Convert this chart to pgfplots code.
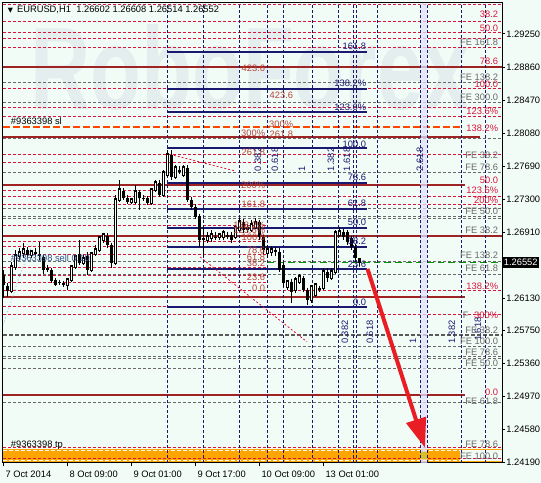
\documentclass[border=0pt]{standalone}
\usepackage{fontspec}
\setmainfont{Liberation Sans}
\newfontfamily\dejavu{DejaVu Sans}
\usepackage{pgfplots}
\pgfplotsset{compat=1.18}
\usetikzlibrary{arrows.meta,calc,backgrounds}

\definecolor{mtbg}{RGB}{242,252,247}
\definecolor{fibred}{RGB}{220,20,60}
\definecolor{fegray}{RGB}{105,105,105}
\definecolor{lvlcol}{RGB}{160,35,35}
\definecolor{mtnavy}{RGB}{25,25,112}
\definecolor{fanbrown}{RGB}{180,70,60}
\definecolor{slorange}{RGB}{255,69,0}
\definecolor{tporange}{RGB}{255,165,0}
\definecolor{arrowred}{RGB}{232,30,36}
\definecolor{lav}{RGB}{226,226,248}
\definecolor{wmark}{RGB}{229,238,238}
\definecolor{pricegreen}{RGB}{0,150,0}

\tikzset{
  redlvl/.style={fibred, line width=0.75pt, dash pattern=on 2.25pt off 1.5pt},
  graylvl/.style={fegray, line width=0.75pt, dash pattern=on 2.25pt off 1.5pt},
  solidlvl/.style={lvlcol, line width=1.5pt},
  vline/.style={mtnavy, line width=0.75pt, dash pattern=on 2.25pt off 1.5pt},
  fib/.style={mtnavy, line width=1.7pt},
  lbl/.style={font=\fontsize{7}{8}\selectfont, inner sep=0.5pt},
}
% right-hand level labels
\newcommand{\rl}[3]{\node[lbl,text=#1,anchor=east] at (axis cs:124.875,#2) {#3};}
% labels of the brown fibonacci set
\newcommand{\bl}[3]{\node[lbl,text=fanbrown,anchor=east] at (axis cs:#1,#2) {#3};}
% navy fibonacci labels
\newcommand{\nl}[2]{\node[lbl,text=mtnavy,anchor=east] at (axis cs:91.875,#1) {#2};}
% rotated time-zone labels
\newcommand{\tz}[3]{\node[lbl,text=mtnavy,rotate=90,anchor=west] at (axis cs:#1,#2) {#3};}

\begin{document}
\begin{tikzpicture}
\begin{axis}[
    name=ax,
    width=374.25pt, height=345pt, scale only axis,
    xmin=0.875, xmax=125.625, ymin=1.24185, ymax=1.29616,
    axis background/.style={fill=mtbg},
    axis line style={black, line width=0.75pt},
    clip mode=individual,
    tick align=outside, major tick length=2.5pt,
    tick style={black, line width=0.75pt},
    xtick pos=left, ytick pos=right, yticklabel pos=right,
    xtick={1,17,33,49,65,81},
    xticklabels={7 Oct 2014, 8 Oct 09:00, 9 Oct 01:00, 9 Oct 17:00, 10 Oct 09:00, 13 Oct 01:00},
    xticklabel style={anchor=north west, xshift=-2pt},
    ytick={1.2925,1.2886,1.2847,1.2808,1.2769,1.2730,1.2691,1.2613,1.2575,1.2536,1.2497,1.2458,1.2419},
    yticklabels={1.29250,1.28860,1.28470,1.28080,1.27690,1.27300,1.26910,1.26130,1.25750,1.25360,1.24970,1.24580,1.24190},
    yticklabel style={inner xsep=0.6pt},
    ticklabel style={font=\fontsize{7}{8}\selectfont},
]
% watermark
\node[text=wmark, anchor=base west, font=\fontsize{88}{88}\selectfont\bfseries,
      xscale=0.71, transform shape, inner sep=0pt] at (axis cs:7.625,1.28353) {RoboForex};

% full-width red dashed levels
\pgfplotsinvokeforeach{1.29604,1.29403,1.29262,1.29191,1.29096,1.28601,1.28377,1.28270,
  1.27822,1.27326,1.27232,1.26217,1.25934}{
  \addplot[redlvl] coordinates {(0.875,#1)(125.625,#1)};}
% red dashed levels of the left fibonacci set
\pgfplotsinvokeforeach{1.27728,1.27397,1.26984,1.26795,1.26736,1.26642,1.26489,1.26394,
  1.26312,1.26028}{
  \addplot[redlvl] coordinates {(0.875,#1)(66.875,#1)};}
% gray dashed expansion levels
\pgfplotsinvokeforeach{1.28683,1.28447,1.28011,1.27610,1.27185,1.27090,1.27067,1.26854,
  1.26559,1.26406,1.25556,1.25438,1.25415,1.25297,1.24896}{
  \addplot[graylvl] coordinates {(0.875,#1)(125.625,#1)};}
\addplot[color={rgb,255:red,90;green,90;blue,90}, line width=1.4pt, dash pattern=on 3pt off 1.5pt]
  coordinates {(0.875,1.25698)(125.625,1.25698)};
% solid support / resistance
\addplot[solidlvl] coordinates {(0.875,1.28860)(125.625,1.28860)};
\addplot[solidlvl] coordinates {(0.875,1.28034)(120.125,1.28034)};
\addplot[solidlvl] coordinates {(0.875,1.27468)(116.375,1.27468)};
\addplot[solidlvl] coordinates {(0.875,1.26866)(125.625,1.26866)};
\addplot[solidlvl] coordinates {(0.875,1.26146)(116.375,1.26146)};
\addplot[solidlvl] coordinates {(0.875,1.24990)(116.375,1.24990)};
% stop loss and current price
\addplot[slorange, line width=1pt, dash pattern=on 5pt off 2.5pt]
  coordinates {(0.875,1.28152)(115.5,1.28152)};
\addplot[pricegreen, line width=0.9pt, dash pattern=on 5pt off 3pt]
  coordinates {(66.875,1.26552)(125.625,1.26552)};

% take profit band
\addplot[fill=tporange, draw=none] coordinates
  {(0.875,1.24199)(115.125,1.24199)(115.125,1.24353)(0.875,1.24353)} -- cycle;
\addplot[tporange, line width=0.75pt] coordinates {(0.875,1.24341)(125.625,1.24341)};
\addplot[tporange, line width=0.75pt] coordinates {(0.875,1.24199)(125.625,1.24199)};
\addplot[white, line width=0.6pt, dash pattern=on 3pt off 1.5pt] coordinates {(0.875,1.24329)(115.125,1.24329)};
\addplot[white, line width=0.6pt, dash pattern=on 3pt off 1.5pt] coordinates {(0.875,1.24211)(115.125,1.24211)};
\addplot[redlvl] coordinates {(0.875,1.24365)(125.625,1.24365)};
\addplot[redlvl] coordinates {(0.875,1.24235)(125.625,1.24235)};

% time zone verticals
\pgfplotsinvokeforeach{41.875,50.875,59.875,66.875,70.875,78.125,84.625,88.375,89.125,
  94.375,115.375,121.375}{
  \addplot[vline] coordinates {(#1,1.24185)(#1,1.29616)};}
% shaded time band
\addplot[fill=lav, fill opacity=0.75, draw=none] coordinates
  {(105.125,1.24185)(106.875,1.24185)(106.875,1.29616)(105.125,1.29616)} -- cycle;
\addplot[fill={rgb,255:red,215;green,190;blue,40}, draw=none] coordinates
  {(105.125,1.24235)(106.875,1.24235)(106.875,1.24318)(105.125,1.24318)} -- cycle;
\addplot[vline] coordinates {(105.125,1.24185)(105.125,1.29616)};
\addplot[vline] coordinates {(106.875,1.24185)(106.875,1.29616)};

% navy fibonacci retracement
\pgfplotsinvokeforeach{1.29037,1.28601,1.28329,1.27905,1.27492,1.27185,1.26961,1.26736,
  1.26477,1.26028}{
  \addplot[fib] coordinates {(41.875,#1)(91.875,#1)};}

% fan lines and arc
\addplot[fibred, line width=0.6pt, dash pattern=on 1.5pt off 1.5pt]
  coordinates {(42.625,1.27829)(58.875,1.27633)};
\addplot[fibred, line width=0.6pt, dash pattern=on 1.5pt off 1.5pt]
  coordinates {(50.125,1.26618)(76.875,1.25615)};
\addplot[color={rgb,255:red,150;green,210;blue,230}, line width=0.6pt, dash pattern=on 1pt off 1.5pt, smooth]
  coordinates {(0.875,1.25816)(2.625,1.26052)(5.125,1.26406)(8.375,1.26784)};

% candles: wicks
\addplot[black, line width=0.75pt, unbounded coords=jump] coordinates {
(1,1.26465)(1,1.26135)(1,nan) (2,1.26312)(2,1.26146)(2,nan) (3,1.26559)(3,1.26194)(3,nan)
(4,1.26701)(4,1.26465)(4,nan) (5,1.26725)(5,1.26583)(5,nan) (6,1.26784)(6,1.26607)(6,nan)
(7,1.26736)(7,1.26607)(7,nan) (8,1.26701)(8,1.26607)(8,nan) (9,1.26725)(9,1.26618)(9,nan)
(10,1.26795)(10,1.26583)(10,nan) (11,1.26642)(11,1.26418)(11,nan) (12,1.26524)(12,1.26441)(12,nan)
(13,1.26489)(13,1.26312)(13,nan) (14,1.26370)(14,1.26276)(14,nan) (15,1.26347)(15,1.26288)(15,nan)
(16,1.26335)(16,1.26264)(16,nan) (17,1.26370)(17,1.26229)(17,nan) (18,1.26524)(18,1.26323)(18,nan)
(19,1.26642)(19,1.26477)(19,nan) (20,1.26819)(20,1.26524)(20,nan) (21,1.26642)(21,1.26524)(21,nan)
(22,1.26677)(22,1.26406)(22,nan) (23,1.26677)(23,1.26441)(23,nan) (24,1.26760)(24,1.26630)(24,nan)
(25,1.26866)(25,1.26677)(25,nan) (26,1.26902)(26,1.26784)(26,nan) (27,1.26902)(27,1.26725)(27,nan)
(28,1.26784)(28,1.26489)(28,nan) (29,1.27350)(29,1.26524)(29,nan) (30,1.27527)(30,1.27267)(30,nan)
(31,1.27433)(31,1.27291)(31,nan) (32,1.27350)(32,1.27244)(32,nan) (33,1.27315)(33,1.27244)(33,nan)
(34,1.27468)(34,1.27244)(34,nan) (35,1.27409)(35,1.27173)(35,nan) (36,1.27350)(36,1.27279)(36,nan)
(37,1.27338)(37,1.27232)(37,nan) (38,1.27433)(38,1.27232)(38,nan) (39,1.27527)(39,1.27385)(39,nan)
(40,1.27527)(40,1.27326)(40,nan) (41,1.27645)(41,1.27326)(41,nan) (42,1.27881)(42,1.27562)(42,nan)
(43,1.27881)(43,1.27527)(43,nan) (44,1.27704)(44,1.27539)(44,nan) (45,1.27692)(45,1.27598)(45,nan)
(46,1.27704)(46,1.27562)(46,nan) (47,1.27704)(47,1.27267)(47,nan) (48,1.27326)(48,1.27173)(48,nan)
(49,1.27244)(49,1.27067)(49,nan) (50,1.27126)(50,1.26736)(50,nan) (51,1.26972)(51,1.26618)(51,nan)
(52,1.26913)(52,1.26784)(52,nan) (53,1.26937)(53,1.26795)(53,nan) (54,1.26913)(54,1.26819)(54,nan)
(55,1.26902)(55,1.26819)(55,nan) (56,1.26937)(56,1.26819)(56,nan) (57,1.26913)(57,1.26831)(57,nan)
(58,1.26913)(58,1.26784)(58,nan) (59,1.26996)(59,1.26831)(59,nan) (60,1.27079)(60,1.26913)(60,nan)
(61,1.27067)(61,1.26902)(61,nan) (62,1.27008)(62,1.26902)(62,nan) (63,1.27055)(63,1.26913)(63,nan)
(64,1.27079)(64,1.26949)(64,nan) (65,1.27055)(65,1.26819)(65,nan) (66,1.26878)(66,1.26642)(66,nan)
(67,1.26760)(67,1.26607)(67,nan) (68,1.26748)(68,1.26630)(68,nan) (69,1.26736)(69,1.26630)(69,nan)
(70,1.26725)(70,1.26441)(70,nan) (71,1.26559)(71,1.26264)(71,nan) (72,1.26347)(72,1.26229)(72,nan)
(73,1.26359)(73,1.26076)(73,nan) (74,1.26382)(74,1.26194)(74,nan) (75,1.26418)(75,1.26300)(75,nan)
(76,1.26394)(76,1.26205)(76,nan) (77,1.26253)(77,1.26052)(77,nan) (78,1.26288)(78,1.26076)(78,nan)
(79,1.26312)(79,1.26146)(79,nan) (80,1.26276)(80,1.26205)(80,nan) (81,1.26489)(81,1.26229)(81,nan)
(82,1.26489)(82,1.26323)(82,nan) (83,1.26489)(83,1.26347)(83,nan) (84,1.26937)(84,1.26418)(84,nan)
(85,1.26972)(85,1.26854)(85,nan) (86,1.26949)(86,1.26819)(86,nan) (87,1.26937)(87,1.26760)(87,nan)
(88,1.26866)(88,1.26701)(88,nan) (89,1.26772)(89,1.26559)(89,nan) (90,1.26608)(90,1.26514)};
% candles: falling bodies (open -> close)
\addplot[black, line width=2.25pt, unbounded coords=jump] coordinates {
(1,1.26406)(1,1.26288)(1,nan) (2,1.26276)(2,1.26217)(2,nan) (7,1.26701)(7,1.26642)(7,nan)
(9,1.26677)(9,1.26654)(9,nan) (10,1.26654)(10,1.26630)(10,nan) (11,1.26618)(11,1.26465)(11,nan)
(12,1.26489)(12,1.26465)(12,nan) (13,1.26465)(13,1.26335)(13,nan) (14,1.26347)(14,1.26288)(14,nan)
(15,1.26323)(15,1.26312)(15,nan) (16,1.26312)(16,1.26288)(16,nan) (20,1.26654)(20,1.26548)(20,nan)
(22,1.26630)(22,1.26465)(22,nan) (27,1.26866)(27,1.26760)(27,nan) (28,1.26760)(28,1.26548)(28,nan)
(31,1.27397)(31,1.27315)(31,nan) (32,1.27315)(32,1.27267)(32,nan) (35,1.27385)(35,1.27315)(35,nan)
(36,1.27315)(36,1.27303)(36,nan) (37,1.27315)(37,1.27256)(37,nan) (40,1.27492)(40,1.27350)(40,nan)
(43,1.27822)(43,1.27562)(43,nan) (45,1.27645)(45,1.27621)(45,nan) (47,1.27669)(47,1.27291)(47,nan)
(48,1.27291)(48,1.27208)(48,nan) (49,1.27208)(49,1.27090)(49,nan) (50,1.27102)(50,1.26819)(50,nan)
(51,1.26843)(51,1.26819)(51,nan) (54,1.26854)(54,1.26843)(54,nan) (57,1.26878)(57,1.26854)(57,nan)
(58,1.26878)(58,1.26819)(58,nan) (61,1.27031)(61,1.26937)(61,nan) (62,1.26972)(62,1.26937)(62,nan)
(65,1.27031)(65,1.26854)(65,nan) (66,1.26854)(66,1.26701)(66,nan) (69,1.26701)(69,1.26677)(69,nan)
(70,1.26677)(70,1.26465)(70,nan) (71,1.26524)(71,1.26312)(71,nan) (73,1.26323)(73,1.26205)(73,nan)
(76,1.26370)(76,1.26229)(76,nan) (77,1.26229)(77,1.26111)(77,nan) (80,1.26253)(80,1.26229)(80,nan)
(82,1.26441)(82,1.26370)(82,nan) (86,1.26913)(86,1.26854)(86,nan) (87,1.26913)(87,1.26795)(87,nan)
(88,1.26843)(88,1.26736)(88,nan) (89,1.26736)(89,1.26607)(89,nan) (90,1.26602)(90,1.26552)};
% candles: rising bodies, outline then hollow inside
\pgfplotsset{bullbodies/.style={unbounded coords=jump}}
\addplot[black, line width=2.25pt, line cap=rect, bullbodies] coordinates {
(3,1.26217)(3,1.26500)(3,nan) (4,1.26500)(4,1.26630)(4,nan) (5,1.26630)(5,1.26666)(5,nan)
(6,1.26666)(6,1.26701)(6,nan) (8,1.26642)(8,1.26677)(8,nan) (17,1.26288)(17,1.26347)(17,nan)
(18,1.26347)(18,1.26500)(18,nan) (19,1.26500)(19,1.26618)(19,nan) (21,1.26548)(21,1.26595)(21,nan)
(23,1.26465)(23,1.26654)(23,nan) (24,1.26654)(24,1.26701)(24,nan) (25,1.26701)(25,1.26843)(25,nan)
(26,1.26819)(26,1.26878)(26,nan) (29,1.26548)(29,1.27291)(29,nan) (30,1.27291)(30,1.27409)(30,nan)
(33,1.27267)(33,1.27291)(33,nan) (34,1.27267)(34,1.27385)(34,nan) (38,1.27256)(38,1.27409)(38,nan)
(39,1.27409)(39,1.27492)(39,nan) (41,1.27350)(41,1.27610)(41,nan) (42,1.27586)(42,1.27822)(42,nan)
(44,1.27562)(44,1.27669)(44,nan) (46,1.27586)(46,1.27669)(46,nan) (52,1.26819)(52,1.26854)(52,nan)
(53,1.26843)(53,1.26878)(53,nan) (55,1.26854)(55,1.26878)(55,nan) (56,1.26854)(56,1.26902)(56,nan)
(59,1.26854)(59,1.26961)(59,nan) (60,1.26937)(60,1.27031)(60,nan) (63,1.26937)(63,1.26996)(63,nan)
(64,1.26972)(64,1.27020)(64,nan) (67,1.26666)(67,1.26701)(67,nan) (68,1.26677)(68,1.26701)(68,nan)
(72,1.26264)(72,1.26323)(72,nan) (74,1.26229)(74,1.26347)(74,nan) (75,1.26323)(75,1.26382)(75,nan)
(78,1.26111)(78,1.26264)(78,nan) (79,1.26170)(79,1.26288)(79,nan) (81,1.26253)(81,1.26441)(81,nan)
(83,1.26370)(83,1.26441)(83,nan) (84,1.26441)(84,1.26902)(84,nan) (85,1.26878)(85,1.26913)};
\addplot[white, line width=0.75pt, bullbodies] coordinates {
(3,1.26217)(3,1.26500)(3,nan) (4,1.26500)(4,1.26630)(4,nan) (5,1.26630)(5,1.26666)(5,nan)
(6,1.26666)(6,1.26701)(6,nan) (8,1.26642)(8,1.26677)(8,nan) (17,1.26288)(17,1.26347)(17,nan)
(18,1.26347)(18,1.26500)(18,nan) (19,1.26500)(19,1.26618)(19,nan) (21,1.26548)(21,1.26595)(21,nan)
(23,1.26465)(23,1.26654)(23,nan) (24,1.26654)(24,1.26701)(24,nan) (25,1.26701)(25,1.26843)(25,nan)
(26,1.26819)(26,1.26878)(26,nan) (29,1.26548)(29,1.27291)(29,nan) (30,1.27291)(30,1.27409)(30,nan)
(33,1.27267)(33,1.27291)(33,nan) (34,1.27267)(34,1.27385)(34,nan) (38,1.27256)(38,1.27409)(38,nan)
(39,1.27409)(39,1.27492)(39,nan) (41,1.27350)(41,1.27610)(41,nan) (42,1.27586)(42,1.27822)(42,nan)
(44,1.27562)(44,1.27669)(44,nan) (46,1.27586)(46,1.27669)(46,nan) (52,1.26819)(52,1.26854)(52,nan)
(53,1.26843)(53,1.26878)(53,nan) (55,1.26854)(55,1.26878)(55,nan) (56,1.26854)(56,1.26902)(56,nan)
(59,1.26854)(59,1.26961)(59,nan) (60,1.26937)(60,1.27031)(60,nan) (63,1.26937)(63,1.26996)(63,nan)
(64,1.26972)(64,1.27020)(64,nan) (67,1.26666)(67,1.26701)(67,nan) (68,1.26677)(68,1.26701)(68,nan)
(72,1.26264)(72,1.26323)(72,nan) (74,1.26229)(74,1.26347)(74,nan) (75,1.26323)(75,1.26382)(75,nan)
(78,1.26111)(78,1.26264)(78,nan) (79,1.26170)(79,1.26288)(79,nan) (81,1.26253)(81,1.26441)(81,nan)
(83,1.26370)(83,1.26441)(83,nan) (84,1.26441)(84,1.26902)(84,nan) (85,1.26878)(85,1.26913)};

% forecast arrow
\addplot[arrowred, line width=3pt, -{Triangle[length=22pt,width=15pt]}]
  coordinates {(92.0,1.26477)(106.375,1.24365)};

% header and order labels
\node[lbl, anchor=west] at (axis cs:1.875,1.29533)
  {{\dejavu\fontsize{5}{6}\selectfont ▼}\hspace{3pt}EURUSD,H1\hspace{4pt}1.26602 1.26608 1.26514 1.26552};
\node[lbl, anchor=west] at (axis cs:2.625,1.28223) {\#9363398 sl};
\node[lbl, anchor=west, text={rgb,255:red,50;green,80;blue,140}] at (axis cs:2.625,1.26607) {\#9363398 sell 0.10};
\node[lbl, anchor=west] at (axis cs:2.625,1.24400) {\#9363398 tp};

% navy fibonacci labels
\nl{1.29108}{161.8} \nl{1.28672}{138.2\%} \nl{1.28388}{123.6\%} \nl{1.27952}{100.0}
\nl{1.27562}{78.6} \nl{1.27256}{61.8} \nl{1.27031}{50.0} \nl{1.26807}{38.2}
\nl{1.26536}{23.6} \nl{1.26088}{0.0}

% brown fibonacci labels
\bl{66.625}{1.28849}{423.6} \bl{66.625}{1.28082}{300\%} \bl{66.625}{1.27857}{261.8}
\bl{66.625}{1.27468}{200\%} \bl{66.625}{1.27244}{161.8} \bl{66.625}{1.26996}{138.2\%}
\bl{66.625}{1.26937}{123.6\%} \bl{66.625}{1.26854}{100.0} \bl{66.625}{1.26701}{78.6}
\bl{66.625}{1.26618}{61.8} \bl{66.625}{1.26548}{38.2} \bl{66.625}{1.26382}{23.6}
\bl{66.625}{1.26253}{0.0}
\bl{73.625}{1.28530}{423.6} \bl{73.625}{1.28189}{300\%} \bl{73.625}{1.28070}{261.8}

% time zone labels
\tz{64.625}{1.27621}{0.382} \tz{68.875}{1.27621}{0.618} \tz{75.625}{1.27621}{1}
\tz{82.875}{1.27621}{1.382} \tz{86.875}{1.27621}{1.618} \tz{105.125}{1.27621}{2.618}
\tz{86.375}{1.25580}{0.382} \tz{92.625}{1.25580}{0.618} \tz{103.375}{1.25580}{1}
\tz{113.125}{1.25580}{1.382} \tz{119.625}{1.25615}{1.618}

% right-hand level labels
\rl{fibred}{1.29486}{38.2} \rl{fibred}{1.29321}{50.0} \rl{fegray}{1.29155}{FE 161.8}
\rl{fibred}{1.28931}{78.6} \rl{fegray}{1.28742}{FE 138.2} \rl{fibred}{1.28651}{100.0}
\rl{fegray}{1.28506}{FE 300.0} \rl{fibred}{1.28341}{123.6\%} \rl{fibred}{1.28140}{138.2\%}
\rl{fegray}{1.27822}{FE 38.2} \rl{fegray}{1.27680}{FE 78.6} \rl{fibred}{1.27527}{50.0}
\rl{fibred}{1.27409}{123.6\%} \rl{fibred}{1.27291}{200\%} \rl{fegray}{1.27151}{FE 50.0}
\rl{fegray}{1.26937}{FE 38.2} \rl{fegray}{1.26642}{FE 138.2} \rl{fegray}{1.26489}{FE 61.8}
\rl{fibred}{1.26276}{138.2\%} \rl{fibred}{1.25930}{300\%}
\node[lbl,text=fegray,anchor=west] at (axis cs:115.625,1.25930) {F};
\rl{fegray}{1.25757}{FE 38.2} \rl{fegray}{1.25627}{FE 100.0} \rl{fegray}{1.25496}{FE 78.6}
\rl{fegray}{1.25368}{FE 50.0} \rl{fibred}{1.25019}{0.0} \rl{fegray}{1.24913}{FE 61.8}
\rl{fegray}{1.24400}{FE 78.6} \rl{fegray}{1.24270}{FE 100.0}

% current price tag
\node[fill=black, text=white, anchor=west, font=\fontsize{7}{8}\selectfont,
      inner xsep=1.2pt, inner ysep=2pt] at (axis cs:125.625,1.26552) {1.26552};
\end{axis}
\begin{scope}[on background layer]
\fill[mtbg] ($(ax.south west)+(-2.25pt,-15pt)$) rectangle ($(ax.north east)+(29.25pt,2.25pt)$);
\end{scope}
\pgfresetboundingbox
\path ($(ax.south west)+(-2.25pt,-15pt)$) rectangle ($(ax.north east)+(29.25pt,2.25pt)$);
\end{tikzpicture}
\end{document}
